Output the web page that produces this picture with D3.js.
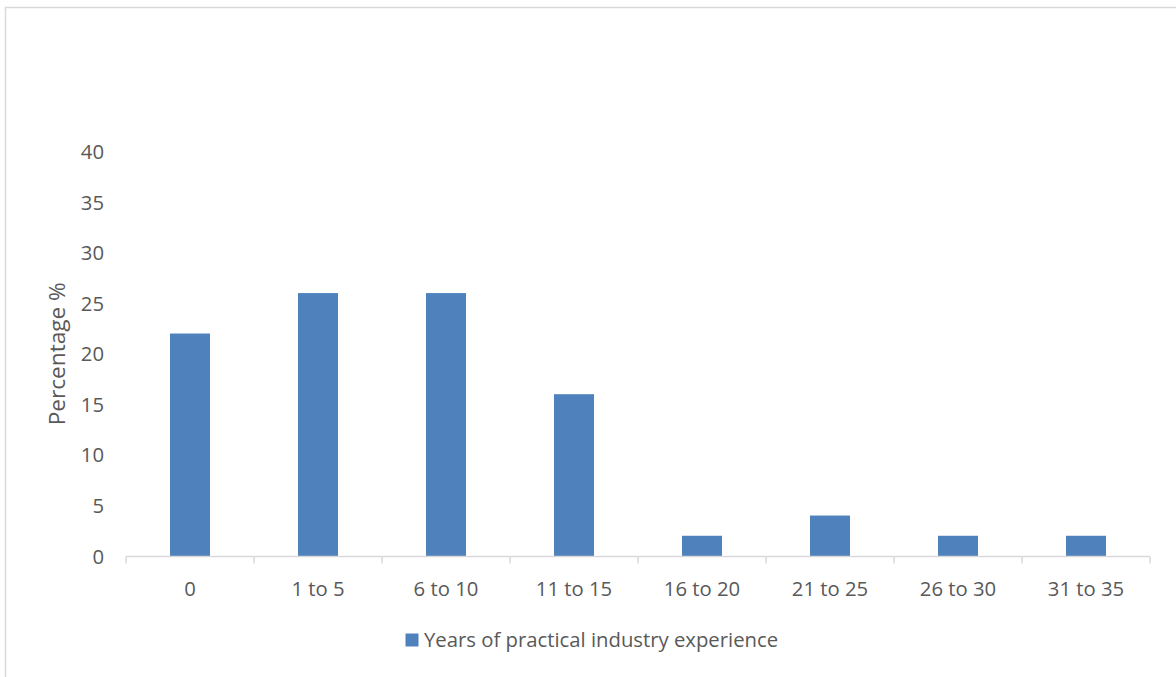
<!DOCTYPE html>
<html>
<head>
<meta charset="utf-8">
<script src="https://cdn.jsdelivr.net/npm/d3@7"></script>
<style>
  html, body { margin: 0; padding: 0; background: #fff; }
  svg { display: block; }
</style>
</head>
<body>
<svg id="chart" width="1176" height="677"></svg>
<script>
// Experience bands and share of respondents (%)
const categories = ["0", "1 to 5", "6 to 10", "11 to 15", "16 to 20", "21 to 25", "26 to 30", "31 to 35"];
const values = [22, 26, 26, 16, 2, 4, 2, 2];
const yTicks = [0, 5, 10, 15, 20, 25, 30, 35, 40];
const seriesName = "Years of practical industry experience";
const yTitle = "Percentage %";

const W = 1176, H = 677;
const plot = { left: 126, right: 1150, top: 151.5, bottom: 556 };
const font = "'Open Sans', sans-serif";
const labelSize = 20.3;
const titleSize = 22.6;
const textColor = "#595959";
const barColor = "#4f81bd";
const axisColor = "#d9d9d9";

const svg = d3.select("#chart");

// Chart area frame
svg.append("rect")
  .attr("x", 5.5).attr("y", 7.5)
  .attr("width", W + 10).attr("height", H + 10)
  .attr("fill", "#fff")
  .attr("stroke", axisColor).attr("stroke-width", 1.5);

const x = d3.scaleBand()
  .domain(categories)
  .range([plot.left, plot.right])
  .paddingInner(0.6875)
  .paddingOuter(0.34375);

const y = d3.scaleLinear()
  .domain([0, 40])
  .range([plot.bottom, plot.top]);

// Bars
svg.append("g").selectAll("rect")
  .data(values)
  .join("rect")
  .attr("x", (d, i) => x(categories[i]))
  .attr("y", d => y(d))
  .attr("width", x.bandwidth())
  .attr("height", d => y(0) - y(d))
  .attr("fill", barColor);

// Y axis labels (no line, no ticks)
const yAxis = d3.axisLeft(y).tickValues(yTicks).tickSize(0).tickPadding(0);
const gy = svg.append("g")
  .attr("transform", `translate(104,0)`)
  .call(yAxis);
gy.select(".domain").remove();
gy.selectAll("text")
  .attr("fill", textColor)
  .attr("font-family", font)
  .attr("font-size", labelSize)
  .attr("dy", "0.35em");

// X axis with category boundary ticks
const gx = svg.append("g")
  .attr("transform", `translate(0,${plot.bottom + 0.5})`);
gx.append("line")
  .attr("x1", plot.left).attr("x2", plot.right)
  .attr("stroke", axisColor).attr("stroke-width", 1.5);
const bounds = d3.range(categories.length + 1).map(i => plot.left + i * x.step());
gx.selectAll("line.tick")
  .data(bounds)
  .join("line")
  .attr("class", "tick")
  .attr("x1", d => d).attr("x2", d => d)
  .attr("y1", 0).attr("y2", 7)
  .attr("stroke", axisColor).attr("stroke-width", 1.5);
gx.selectAll("text")
  .data(categories)
  .join("text")
  .attr("x", d => x(d) + x.bandwidth() / 2)
  .attr("y", 32)
  .attr("dy", "0.35em")
  .attr("text-anchor", "middle")
  .attr("fill", textColor)
  .attr("font-family", font)
  .attr("font-size", labelSize)
  .text(d => d);

// Y axis title
svg.append("text")
  .attr("transform", `translate(57,${(plot.top + plot.bottom) / 2}) rotate(-90)`)
  .attr("dy", "0.35em")
  .attr("text-anchor", "middle")
  .attr("fill", textColor)
  .attr("font-family", font)
  .attr("font-size", titleSize)
  .text(yTitle);

// Legend
const lg = svg.append("g").attr("transform", "translate(405.5,633.5)");
lg.append("rect").attr("width", 13).attr("height", 13).attr("fill", barColor);
lg.append("text")
  .attr("x", 18.5).attr("y", 6.5).attr("dy", "0.35em")
  .attr("fill", textColor)
  .attr("font-family", font)
  .attr("font-size", labelSize)
  .text(seriesName);
</script>
</body>
</html>
